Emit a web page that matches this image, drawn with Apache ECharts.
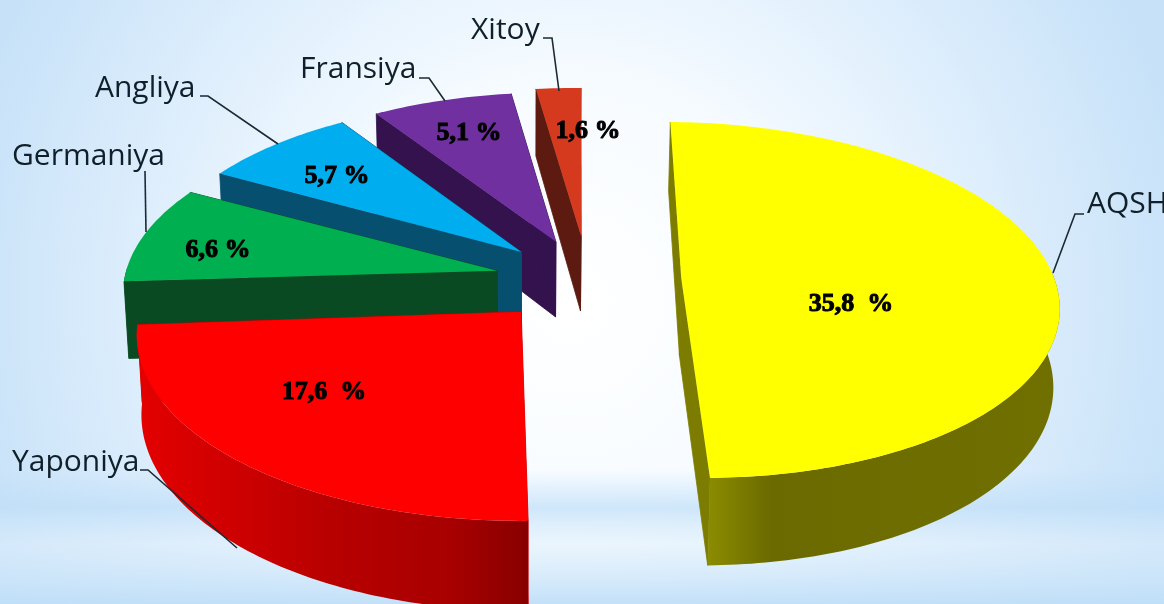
<!DOCTYPE html>
<html>
<head>
<meta charset="utf-8">
<script src="https://cdn.jsdelivr.net/npm/echarts@6/dist/echarts.min.js"></script>
<style>
html, body { margin: 0; padding: 0; }
#main { width: 1164px; height: 604px; }
</style>
</head>
<body>
<div id="main"></div>
<script>
// chart data
var countries = ['AQSH', 'Yaponiya', 'Germaniya', 'Angliya', 'Fransiya', 'Xitoy'];
var shares = [35.8, 17.6, 6.6, 5.7, 5.1, 1.6];

// colours per slice: top, wall
var topColors = ['#ffff00', '#fe0000', '#00b050', '#00aeef', '#7030a0', '#d63a1e'];
var wallColors = ['#7c7c00', '#c80000', '#0a4a22', '#064f6e', '#33124e', '#5c1a10'];

// where each slice was pulled out to, in pie radii
var offsetX = [0.419, -0.01, -0.075, -0.01, 0.085, 0.155];
var offsetY = [0, -0.185, 0.045, 0.155, 0.215, 0.25];

// back to front
var drawOrder = [5, 4, 3, 2, 1, 0];

// perspective of the tilted pie
var view = { x: 525, y: 278.6, sx: 373, sy: 175.4, k: 0.12, depth: 77, shrink: 0.988, rot: 1 };

// annotations, in pixels
var valuePos = [[851, 304], [324, 392], [218, 250], [337, 176], [469, 133], [588, 131]];
var namePos = [[1087, 204], [12, 462], [12, 156], [95, 88], [300, 69], [471, 30]];
var leaders = [
    [[1084, 214], [1075, 214], [1053, 273]],
    [[140, 470], [148, 470], [237, 548]],
    [[145, 171], [146, 232]],
    [[200, 96], [208, 96], [278, 144]],
    [[419, 78], [429, 78], [445, 101]],
    [[543, 38], [552, 38], [559, 91]]
];

var total = shares.reduce(function (a, b) { return a + b; }, 0);
var startAngles = [];
shares.reduce(function (sum, v, i) {
    startAngles[i] = sum / total * 360 + view.rot;
    return sum + v;
}, 0);

function project(X, Y, low) {
    var w = 1 + view.k * Y;
    var px = view.x + view.sx * X / w;
    var py = view.y - view.sy * Y / w;
    if (low) {
        px = view.x + (px - view.x) * view.shrink;
        py += view.depth / w;
    }
    return [px, py];
}

function wallFill(i) {
    if (i === 0) {
        return { type: 'linear', x: 0, y: 0, x2: 1, y2: 0, colorStops: [
            { offset: 0, color: '#8c8c00' }, { offset: 0.18, color: '#6a6a00' }, { offset: 1, color: '#707000' }
        ] };
    }
    if (i === 1) {
        return { type: 'linear', x: 0, y: 0, x2: 1, y2: 0, colorStops: [
            { offset: 0, color: '#e40000' }, { offset: 0.5, color: '#b80000' },
            { offset: 0.8, color: '#a80000' }, { offset: 1, color: '#880000' }
        ] };
    }
    return wallColors[i];
}

function renderSlice(params, api) {
    var i = api.value(0);
    var a0 = startAngles[i];
    var a1 = a0 + api.value(1) / total * 360;
    var ox = offsetX[i], oy = offsetY[i];
    var arcTop = [], arcLow = [], a, rad;
    for (a = a0; a < a1 + 0.01; a += Math.min(1, (a1 - a0) / 8)) {
        rad = a * Math.PI / 180;
        arcTop.push(project(ox + Math.sin(rad), oy + Math.cos(rad), false));
        if (Math.cos(rad) < 0.04) {
            arcLow.push({ top: arcTop[arcTop.length - 1], low: project(ox + Math.sin(rad), oy + Math.cos(rad), true) });
        }
    }
    var apex = project(ox, oy, false), apexLow = project(ox, oy, true);
    var first = arcTop[0], last = arcTop[arcTop.length - 1];
    var r0 = a0 * Math.PI / 180, r1 = a1 * Math.PI / 180;
    var firstLow = project(ox + Math.sin(r0), oy + Math.cos(r0), true);
    var lastLow = project(ox + Math.sin(r1), oy + Math.cos(r1), true);
    var children = [];

    // cut faces
    [[first, firstLow], [last, lastLow]].forEach(function (edge) {
        children.push({
            type: 'polygon',
            shape: { points: [apex, edge[0], edge[1], apexLow] },
            style: { fill: wallColors[i], stroke: wallColors[i], lineWidth: 0.8 }
        });
    });
    // rounded wall, only the part facing us
    if (arcLow.length > 1) {
        var wall = arcLow.map(function (p) { return p.top; })
            .concat(arcLow.map(function (p) { return p.low; }).reverse());
        children.push({ type: 'polygon', shape: { points: wall }, style: { fill: wallFill(i) } });
    }
    children.push({
        type: 'polygon',
        shape: { points: [apex].concat(arcTop) },
        style: { fill: topColors[i] }
    });
    return { type: 'group', children: children };
}

function renderNotes(params, api) {
    var i = api.value(0);
    var val = api.value(1);
    var v = val.toFixed(1).replace('.', ',') + (val >= 10 ? '  %' : ' %');
    return {
        type: 'group',
        children: [{
            type: 'polyline',
            shape: { points: leaders[i] },
            style: { stroke: '#1c2a33', lineWidth: 1.6, fill: null }
        }, {
            type: 'text',
            style: {
                text: countries[i], x: namePos[i][0], y: namePos[i][1],
                font: '30px "Open Sans"', fill: '#10202a', textAlign: 'left', textVerticalAlign: 'middle'
            }
        }, {
            type: 'text',
            style: {
                text: v, x: valuePos[i][0], y: valuePos[i][1],
                font: 'bold 26px "Liberation Serif"', fill: '#000', stroke: '#000', lineWidth: 1,
                textAlign: 'center', textVerticalAlign: 'middle'
            }
        }]
    };
}

var rows = drawOrder.map(function (i) { return [i, shares[i]]; });

var myChart = echarts.init(document.getElementById('main'));
myChart.setOption({
    backgroundColor: {
        type: 'radial', x: 0.49, y: 0.5, r: 1.05,
        colorStops: [
            { offset: 0, color: '#ffffff' }, { offset: 0.35, color: '#f6fbff' },
            { offset: 0.7, color: '#dcedfc' }, { offset: 1, color: '#c6e1f8' }
        ]
    },
    animation: false,
    graphic: [{
        type: 'rect', z: 0, silent: true,
        shape: { x: 0, y: 470, width: 1164, height: 134 },
        style: {
            fill: {
                type: 'linear', x: 0, y: 0, x2: 0, y2: 1,
                colorStops: [
                    { offset: 0, color: 'rgba(190,222,248,0)' }, { offset: 0.28, color: 'rgba(190,222,248,0.7)' },
                    { offset: 0.55, color: 'rgba(225,240,252,0.5)' }, { offset: 1, color: 'rgba(190,222,248,0.9)' }
                ]
            }
        }
    }],
    series: [
        { type: 'custom', coordinateSystem: 'none', z: 2, silent: true, renderItem: renderSlice, data: rows },
        { type: 'custom', coordinateSystem: 'none', z: 3, silent: true, renderItem: renderNotes, data: rows }
    ]
});
</script>
</body>
</html>
